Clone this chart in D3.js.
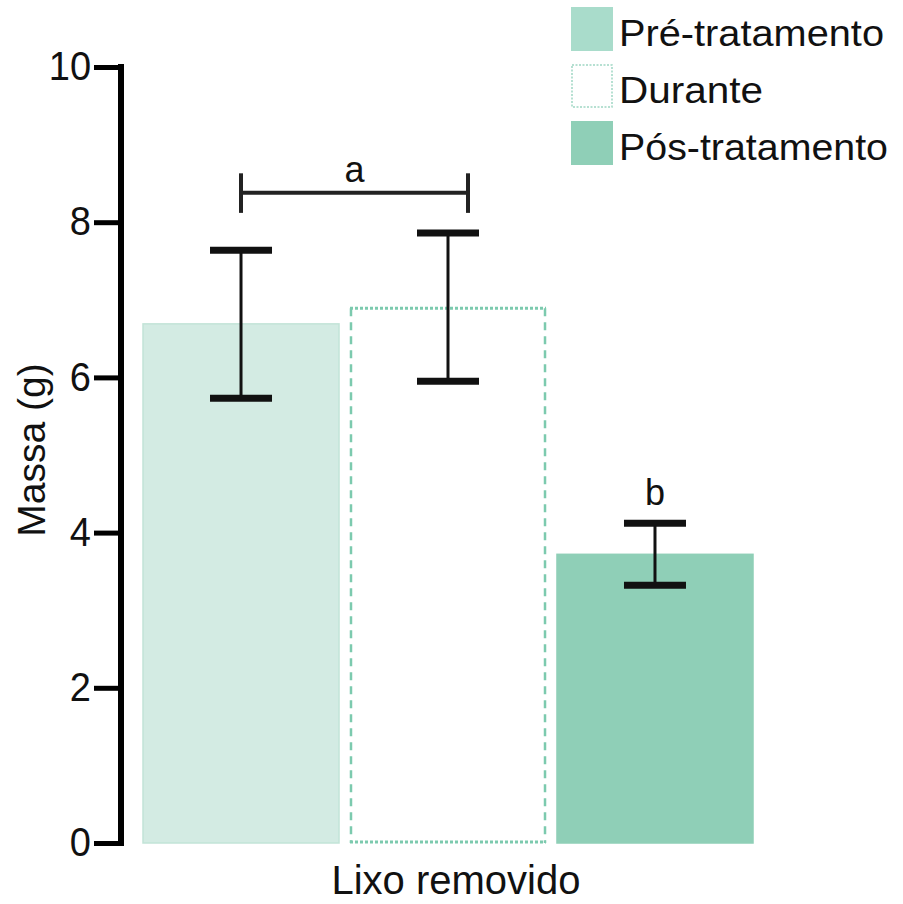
<!DOCTYPE html>
<html>
<head>
<meta charset="utf-8">
<script src="https://cdn.jsdelivr.net/npm/d3@7"></script>
<style>
body { margin: 0; background: #fff; }
text { font-family: "Liberation Sans", Arial, sans-serif; fill: #111; }
</style>
</head>
<body>
<div id="chart"></div>
<script>
// data
var categories = ["Pré-tratamento", "Durante", "Pós-tratamento"];
var means = [6.69, 6.89, 3.72];
var errLow = [5.73, 5.95, 3.32];
var errHigh = [7.64, 7.86, 4.12];
var yTicks = [0, 2, 4, 6, 8, 10];
var fills = ["#d3ebe3", "#ffffff", "#8fcfb7"];
var legendFills = ["#a9dccb", "#ffffff", "#8fcfb7"];

var width = 903, height = 904;
var svg = d3.select("#chart").append("svg")
  .attr("width", width)
  .attr("height", height);

var x = d3.scaleBand()
  .domain(categories)
  .range([143, 753])
  .paddingInner(0.053)
  .paddingOuter(0);

var y = d3.scaleLinear()
  .domain([0, 10])
  .range([843, 67]);

// bars
categories.forEach(function(c, i) {
  var x0 = x(c), bw = x.bandwidth(), top = y(means[i]), bot = y(0);
  if (i == 1) {
    // dashed outline bar
    var g = svg.append("g").attr("stroke", "#7ccaae").attr("fill", "none");
    g.append("line").attr("x1", x0).attr("x2", x0 + bw).attr("y1", top).attr("y2", top)
      .attr("stroke-width", 3).attr("stroke-dasharray", "3,2");
    g.append("line").attr("x1", x0).attr("x2", x0 + bw).attr("y1", bot - 1).attr("y2", bot - 1)
      .attr("stroke-width", 3).attr("stroke-dasharray", "3,2");
    g.append("line").attr("x1", x0 + 1).attr("x2", x0 + 1).attr("y1", top).attr("y2", bot)
      .attr("stroke-width", 2.5).attr("stroke-dasharray", "8,6");
    g.append("line").attr("x1", x0 + bw - 1).attr("x2", x0 + bw - 1).attr("y1", top).attr("y2", bot)
      .attr("stroke-width", 2.5).attr("stroke-dasharray", "8,6");
  } else {
    svg.append("rect")
      .attr("x", x0).attr("y", top)
      .attr("width", bw).attr("height", bot - top)
      .attr("fill", fills[i])
      .attr("stroke", i == 0 ? "#c2e4d7" : "#8fcfb7")
      .attr("stroke-width", 1.5);
  }
});

// error bars
var capHalf = 31;
categories.forEach(function(c, i) {
  var cx = x(c) + x.bandwidth() / 2;
  svg.append("line")
    .attr("x1", cx).attr("x2", cx)
    .attr("y1", y(errHigh[i])).attr("y2", y(errLow[i]))
    .attr("stroke", "#111").attr("stroke-width", 3);
  [errHigh[i], errLow[i]].forEach(function(v) {
    svg.append("line")
      .attr("x1", cx - capHalf).attr("x2", cx + capHalf)
      .attr("y1", y(v)).attr("y2", y(v))
      .attr("stroke", "#111").attr("stroke-width", 7);
  });
});

// significance bracket a, and letter b
var bx1 = x(categories[0]) + x.bandwidth() / 2;
var bx2 = x(categories[1]) + x.bandwidth() / 2 + 20;
var by = y(8.38);
svg.append("line").attr("x1", bx1).attr("x2", bx2).attr("y1", by).attr("y2", by)
  .attr("stroke", "#222").attr("stroke-width", 4);
[bx1, bx2].forEach(function(bx) {
  svg.append("line").attr("x1", bx).attr("x2", bx)
    .attr("y1", y(8.63)).attr("y2", y(8.12))
    .attr("stroke", "#222").attr("stroke-width", 4);
});
svg.append("text").attr("x", (bx1 + bx2) / 2).attr("y", by - 11)
  .attr("text-anchor", "middle").attr("font-size", 36).text("a");
svg.append("text").attr("x", x(categories[2]) + x.bandwidth() / 2).attr("y", y(errHigh[2]) - 18)
  .attr("text-anchor", "middle").attr("font-size", 36).text("b");

// y axis
var yAxis = d3.axisLeft(y).tickValues(yTicks).tickSize(27).tickPadding(3).tickSizeOuter(0);
var ax = svg.append("g").attr("transform", "translate(121,0)").call(yAxis);
ax.select(".domain").attr("stroke", "#000").attr("stroke-width", 6)
  .attr("d", "M0," + (y(10) - 3) + "V" + (y(0) + 3));
ax.selectAll(".tick line").attr("stroke", "#000").attr("stroke-width", 5);
ax.selectAll(".tick text").attr("font-size", 38).attr("fill", "#111")
  .attr("font-family", "Liberation Sans, Arial, sans-serif")
  .attr("transform", "scale(1,1.05)");

svg.append("text")
  .attr("transform", "translate(45,450) rotate(-90)")
  .attr("text-anchor", "middle").attr("font-size", 39)
  .text("Massa (g)");

svg.append("text")
  .attr("x", 456).attr("y", 894)
  .attr("text-anchor", "middle").attr("font-size", 40)
  .text("Lixo removido");

// legend
var legendY = [7, 64, 121];
categories.forEach(function(c, i) {
  var g = svg.append("g").attr("transform", "translate(571," + legendY[i] + ")");
  if (i == 1) {
    g.append("rect").attr("x", 1).attr("y", 1).attr("width", 40).attr("height", 42)
      .attr("fill", "#fff").attr("stroke", "#9fd6c3").attr("stroke-width", 1.5)
      .attr("stroke-dasharray", "2,1.5");
  } else {
    g.append("rect").attr("width", 42).attr("height", 44).attr("fill", legendFills[i]);
  }
  g.append("text").attr("x", 48).attr("y", 39).attr("font-size", 36)
    .attr("textLength", i == 1 ? 144 : (i == 0 ? 265 : 269))
    .attr("lengthAdjust", "spacingAndGlyphs")
    .text(c);
});
</script>
</body>
</html>
